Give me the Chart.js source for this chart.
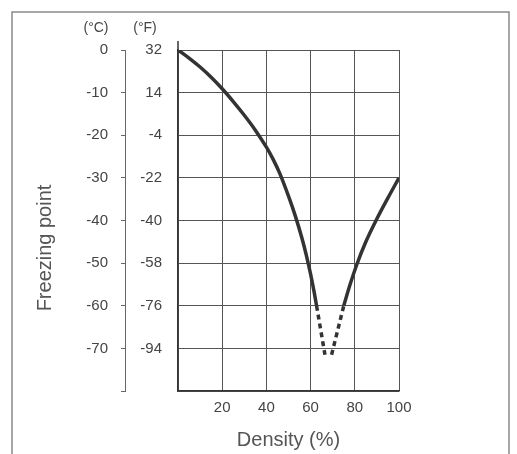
<!DOCTYPE html>
<html>
<head>
<meta charset="utf-8">
<script src="https://cdn.jsdelivr.net/npm/chart.js@4/dist/chart.umd.min.js"></script>
<style>
  html, body { margin: 0; padding: 0; background: #fff; }
  #chart { display: block; }
</style>
</head>
<body>
<canvas id="chart" width="517" height="454"></canvas>
<script>
// freezing point vs density
var celsiusTicks = [0, -10, -20, -30, -40, -50, -60, -70];
var fahrenheitTicks = ['32', '14', '-4', '-22', '-40', '-58', '-76', '-94'];
var densityTicks = [20, 40, 60, 80, 100];

var leftDensity = [0, 5, 10, 15, 20, 25, 30, 35, 40, 43, 46, 50, 53, 56, 58, 60, 61.5, 62.7];
var leftTemp = [0, -1.9, -4, -6.4, -9.1, -12.1, -15.3, -18.8, -22.8, -25.6, -28.9, -34.3, -38.8, -44, -48, -52.6, -56.5, -60];
var dashDensity = [62.7, 66.5, null, 69.5, 75];
var dashTemp = [-60, -71.5, null, -71.5, -60];
var rightDensity = [75, 78, 81, 85, 90, 95, 100];
var rightTemp = [-60, -54.8, -50.2, -45, -39.6, -34.7, -30];

var ink = '#333';
var gridInk = '#555';
var textInk = '#444';
var family = '"Liberation Sans", Arial, sans-serif';

function points(xs, ys) {
    return xs.map(function (x, i) {
        return { x: x === null ? NaN : x, y: ys[i] };
    });
}

var decor = {
    id: 'decor',
    beforeDraw: function (chart) {
        var ctx = chart.ctx;
        ctx.save();
        ctx.strokeStyle = '#8a8a8a';
        ctx.lineWidth = 1.5;
        ctx.beginPath();
        ctx.moveTo(12, 454);
        ctx.lineTo(12, 12);
        ctx.lineTo(509, 12);
        ctx.lineTo(509, 454);
        ctx.stroke();
        ctx.restore();
    },
    afterDraw: function (chart) {
        var ctx = chart.ctx;
        var area = chart.chartArea;
        ctx.save();
        // plot edge runs a little above the top grid line
        ctx.strokeStyle = ink;
        ctx.lineWidth = 1.5;
        ctx.beginPath();
        ctx.moveTo(area.left, area.top - 9);
        ctx.lineTo(area.left, area.top);
        ctx.stroke();

        ctx.fillStyle = textInk;
        ctx.textAlign = 'center';
        ctx.textBaseline = 'middle';
        ctx.font = '14px ' + family;
        ctx.fillText('(°C)', 96, 28);
        ctx.fillText('(°F)', 145, 28);
        ctx.translate(45, 248);
        ctx.rotate(-Math.PI / 2);
        ctx.font = '20px ' + family;
        ctx.fillStyle = '#555';
        ctx.fillText('Freezing point', 0, 0);
        ctx.restore();
    }
};

var ctx = document.getElementById('chart').getContext('2d');
new Chart(ctx, {
    type: 'line',
    data: {
        datasets: [{
            data: points(leftDensity, leftTemp),
            borderColor: ink,
            borderWidth: 3.5,
            pointRadius: 0,
            cubicInterpolationMode: 'monotone',
            yAxisID: 'yF'
        }, {
            data: points(dashDensity, dashTemp),
            borderColor: ink,
            borderWidth: 3.5,
            borderDash: [5, 4],
            pointRadius: 0,
            spanGaps: false,
            yAxisID: 'yF'
        }, {
            data: points(rightDensity, rightTemp),
            borderColor: ink,
            borderWidth: 3.5,
            pointRadius: 0,
            cubicInterpolationMode: 'monotone',
            yAxisID: 'yF'
        }]
    },
    options: {
        responsive: false,
        animation: false,
        layout: { padding: { top: 50, right: 118, left: 0, bottom: 0 } },
        plugins: {
            legend: { display: false },
            tooltip: { enabled: false }
        },
        scales: {
            x: {
                type: 'linear',
                min: 0,
                max: 100,
                afterFit: function (scale) { scale.height = 63; },
                ticks: {
                    stepSize: 20,
                    padding: 8,
                    color: textInk,
                    font: { family: family, size: 15 },
                    maxRotation: 0,
                    callback: function (value) {
                        return densityTicks.indexOf(value) >= 0 ? String(value) : '';
                    }
                },
                grid: { color: gridInk, lineWidth: 1, drawTicks: false },
                border: { color: ink, width: 1.5 },
                title: {
                    display: true,
                    text: 'Density (%)',
                    color: '#555',
                    font: { family: family, size: 20 },
                    padding: { top: 0, bottom: 2 }
                }
            },
            yF: {
                type: 'linear',
                position: 'left',
                weight: 0,
                min: -80,
                max: 0,
                afterFit: function (scale) { scale.width = 53; },
                ticks: {
                    stepSize: 10,
                    padding: 16,
                    color: textInk,
                    font: { family: family, size: 15 },
                    callback: function (value) {
                        var i = celsiusTicks.indexOf(value);
                        return i < 0 ? '' : fahrenheitTicks[i];
                    }
                },
                grid: { color: gridInk, lineWidth: 1, drawTicks: false },
                border: { color: ink, width: 1.5 }
            },
            yC: {
                type: 'linear',
                position: 'left',
                weight: 1,
                min: -80,
                max: 0,
                afterFit: function (scale) { scale.width = 125; },
                ticks: {
                    stepSize: 10,
                    padding: 13,
                    color: textInk,
                    font: { family: family, size: 15 },
                    callback: function (value) {
                        return celsiusTicks.indexOf(value) >= 0 ? String(value) : '';
                    }
                },
                grid: { drawOnChartArea: false, color: '#666', tickLength: 4, lineWidth: 1 },
                border: { color: '#666', width: 1 }
            }
        }
    },
    plugins: [decor]
});
</script>
</body>
</html>
